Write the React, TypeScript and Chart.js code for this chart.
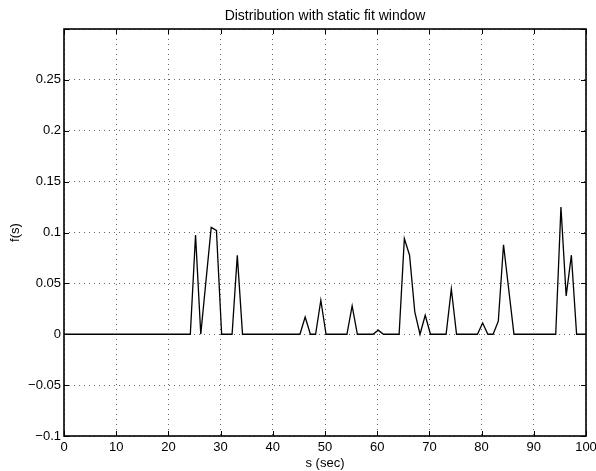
import React, { useEffect, useRef } from "react";
import { Chart, registerables } from "chart.js";

Chart.register(...registerables);

const TITLE = "Distribution with static fit window";
const X_LABEL = "s (sec)";
const Y_LABEL = "f(s)";

const S_VALUES = [
  0, 24.2, 25.2, 26.2, 28.2, 29.2, 30.2, 32.2, 33.2, 34.2,
  45.2, 46.2, 47.2, 48.2, 49.2, 50.2,
  54.2, 55.2, 56.2,
  59.2, 60.2, 61.2,
  64.2, 65.2, 66.2, 67.2, 68.2, 69.2, 70.2,
  73.2, 74.2, 75.2,
  79.2, 80.2, 81.2, 82.2, 83.2, 84.2, 86.2,
  94.2, 95.2, 96.2, 97.2, 98.2, 100,
];
const F_VALUES = [
  0, 0, 0.0975, 0, 0.105, 0.102, 0, 0, 0.0775, 0,
  0, 0.017, 0, 0, 0.0334, 0,
  0, 0.028, 0,
  0, 0.004, 0,
  0, 0.094, 0.0777, 0.022, 0, 0.0187, 0,
  0, 0.0446, 0,
  0, 0.011, 0, 0, 0.0128, 0.088, 0,
  0, 0.125, 0.0377, 0.0777, 0, 0,
];

const X_MIN = 0;
const X_MAX = 100;
const X_STEP = 10;
const Y_MIN = -0.1;
const Y_MAX = 0.3;
const Y_STEP = 0.05;
const HIDDEN_Y_TICKS = [0.3];

const FONT_FAMILY = '"Liberation Sans", Arial, Helvetica, sans-serif';

const decorPlugin = {
  id: "decor",
  afterDraw(chart: any) {
    const { ctx, chartArea: a, scales } = chart;
    const xs = scales.x;
    const ys = scales.y;
    ctx.save();
    ctx.strokeStyle = "#000";
    ctx.lineWidth = 1;
    ctx.beginPath();
    for (const t of xs.ticks) {
      const p = Math.round(xs.getPixelForValue(t.value)) + 0.5;
      ctx.moveTo(p, a.top);
      ctx.lineTo(p, a.top + 5);
      ctx.moveTo(p, a.bottom);
      ctx.lineTo(p, a.bottom - 5);
    }
    for (const t of ys.ticks) {
      const p = Math.round(ys.getPixelForValue(t.value)) + 0.5;
      ctx.moveTo(a.left, p);
      ctx.lineTo(a.left + 5, p);
      ctx.moveTo(a.right, p);
      ctx.lineTo(a.right - 5, p);
    }
    ctx.stroke();
    ctx.lineWidth = 1.6;
    ctx.strokeRect(a.left, a.top, a.right - a.left, a.bottom - a.top);

    ctx.fillStyle = "#000";
    ctx.textAlign = "center";
    ctx.textBaseline = "alphabetic";
    ctx.font = `14px ${FONT_FAMILY}`;
    ctx.fillText(TITLE, (a.left + a.right) / 2, 19.5);
    ctx.font = `13px ${FONT_FAMILY}`;
    ctx.fillText(X_LABEL, (a.left + a.right) / 2, 466.5);
    ctx.translate(18.5, (a.top + a.bottom) / 2);
    ctx.rotate(-Math.PI / 2);
    ctx.fillText(Y_LABEL, 0, 0);
    ctx.restore();
  },
};

export default function App() {
  const canvasRef = useRef<HTMLCanvasElement | null>(null);

  useEffect(() => {
    const canvas = canvasRef.current;
    if (!canvas) return;
    const points = S_VALUES.map((s, i) => ({ x: s, y: F_VALUES[i] }));
    const tickFont = { family: FONT_FAMILY, size: 13 };
    const chart = new Chart(canvas, {
      type: "scatter",
      data: {
        datasets: [
          {
            data: points,
            showLine: true,
            borderColor: "#000",
            backgroundColor: "#000",
            borderWidth: 1.3,
            pointRadius: 0,
            tension: 0,
          },
        ],
      },
      options: {
        responsive: false,
        animation: false,
        devicePixelRatio: 1,
        layout: { padding: { top: 29, right: 10, left: 0, bottom: 0 } },
        plugins: {
          legend: { display: false },
          title: { display: false },
          tooltip: { enabled: false },
        },
        scales: {
          x: {
            type: "linear",
            min: X_MIN,
            max: X_MAX,
            ticks: {
              stepSize: X_STEP,
              padding: 4,
              color: "#000",
              font: tickFont,
              maxRotation: 0,
              autoSkip: false,
              callback: (v: any) => String(Math.round(Number(v))),
            },
            grid: { color: "rgba(0,0,0,0.6)", drawTicks: false, lineWidth: 1 },
            border: { display: false, dash: [1, 4] },
            afterFit: (s: any) => {
              s.height = 35;
              s.paddingLeft = 0;
              s.paddingRight = 0;
            },
          },
          y: {
            type: "linear",
            min: Y_MIN,
            max: Y_MAX,
            ticks: {
              stepSize: Y_STEP,
              padding: 3,
              color: "#000",
              font: tickFont,
              autoSkip: false,
              callback: (v: any) => {
                const n = parseFloat(Number(v).toFixed(2));
                if (HIDDEN_Y_TICKS.some((h) => Math.abs(h - n) < 1e-9)) return "";
                return String(n).replace("-", "\u2212");
              },
            },
            grid: { color: "rgba(0,0,0,0.6)", drawTicks: false, lineWidth: 1 },
            border: { display: false, dash: [1, 4] },
            afterFit: (s: any) => {
              s.width = 64;
              s.paddingTop = 0;
              s.paddingBottom = 0;
            },
          },
        },
      },
      plugins: [decorPlugin],
    } as any);
    return () => chart.destroy();
  }, []);

  return (
    <div style={{ position: "fixed", left: 0, top: 0, width: 596, height: 471, background: "#fff" }}>
      <canvas ref={canvasRef} width={596} height={471} style={{ width: 596, height: 471 }} />
    </div>
  );
}
